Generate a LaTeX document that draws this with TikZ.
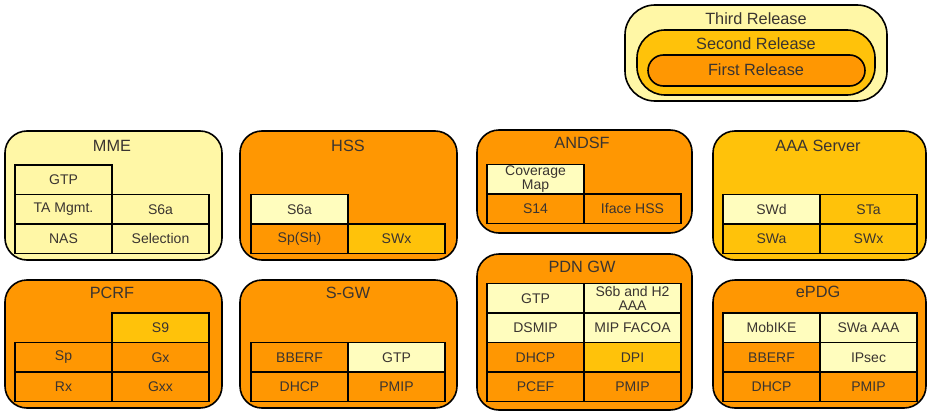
\documentclass[tikz,border=0pt]{standalone}
\usepackage{fontspec}
\setmainfont{Liberation Sans}
\definecolor{lightY}{HTML}{FFF7A6}
\definecolor{paleY}{HTML}{FFFDBE}
\definecolor{gold}{HTML}{FFC20A}
\definecolor{orng}{HTML}{FF9702}
\definecolor{txt}{HTML}{3A3430}
\newcommand\mkcell[5]{\node[cell,fill=#4] (#1) at (#2,#3) {#5};}
\begin{document}
\begin{tikzpicture}[x=1pt,y=-1pt,
  box/.style={draw=black, line width=1.6pt, rounded corners=22pt, inner sep=0pt, outer sep=0pt, anchor=north west},
  cell/.style={draw=black, line width=1.4pt, inner sep=0pt, outer sep=0pt, anchor=north west, minimum width=97pt, minimum height=29.5pt, font=\fontsize{14}{14}\selectfont, text=txt, align=center},
  ttl/.style={font=\fontsize{16.3}{16}\selectfont, text=txt, inner sep=0pt},
  rel/.style={draw=black, line width=1.6pt, inner sep=0pt, outer sep=0pt, anchor=north west},
]
\useasboundingbox (0,0) rectangle (928,412);

% Legend
\node[rel, fill=lightY, rounded corners=30pt, minimum width=262pt, minimum height=96pt] (rel3) at (625,5) {};
\node[rel, fill=gold, rounded corners=28pt, minimum width=238pt, minimum height=65pt] (rel2) at (637,30) {};
\node[rel, fill=orng, rounded corners=15.5pt, minimum width=217pt, minimum height=31pt] (rel1) at (648,55) {};
\node[ttl] (rel3t) at (756,19) {Third Release};
\node[ttl] (rel2t) at (756,44) {Second Release};
\node[ttl] (rel1t) at (756,70) {First Release};

% MME
\node[box, fill=lightY, minimum width=217pt, minimum height=129pt] (mme) at (5,131) {};
\node[ttl] (mmet) at (112,146) {MME};
\mkcell{mgtp}{15}{165}{lightY}{GTP}
\mkcell{mta}{15}{194.5}{lightY}{TA Mgmt.}
\mkcell{ms6a}{112}{194.5}{lightY}{S6a}
\mkcell{mnas}{15}{224}{lightY}{NAS}
\mkcell{msel}{112}{224}{lightY}{Selection}

% HSS
\node[box, fill=orng, minimum width=217pt, minimum height=129pt] (hss) at (240,131) {};
\node[ttl] (hsst) at (348,146) {HSS};
\mkcell{hs6a}{251}{194.5}{paleY}{S6a}
\mkcell{hsp}{251}{224}{orng}{Sp(Sh)}
\mkcell{hswx}{348}{224}{gold}{SWx}

% ANDSF
\node[box, fill=orng, minimum width=215pt, minimum height=103pt] (andsf) at (477,130) {};
\node[ttl] (andsft) at (582,143) {ANDSF};
\mkcell{acov}{487}{164.5}{paleY}{Coverage\\Map}
\mkcell{as14}{487}{194}{orng}{S14}
\mkcell{aif}{584}{194}{orng}{Iface HSS}

% AAA Server
\node[box, fill=gold, minimum width=213pt, minimum height=129pt] (aaa) at (713,131) {};
\node[ttl] (aaat) at (818,146) {AAA Server};
\mkcell{swd}{723}{194.5}{paleY}{SWd}
\mkcell{sta}{820}{194.5}{gold}{STa}
\mkcell{swa}{723}{224}{gold}{SWa}
\mkcell{swx}{820}{224}{gold}{SWx}

% PCRF
\node[box, fill=orng, minimum width=217pt, minimum height=128pt] (pcrf) at (5,280) {};
\node[ttl] (pcrft) at (112,293) {PCRF};
\mkcell{ps9}{112}{313}{gold}{S9}
\mkcell{psp}{15}{342.5}{orng}{Sp}
\mkcell{pgx}{112}{342.5}{orng}{Gx}
\mkcell{prx}{15}{372}{orng}{Rx}
\mkcell{pgxx}{112}{372}{orng}{Gxx}

% S-GW
\node[box, fill=orng, minimum width=217pt, minimum height=128pt] (sgw) at (240,280) {};
\node[ttl] (sgwt) at (348,293) {S-GW};
\mkcell{sbb}{251}{342.5}{orng}{BBERF}
\mkcell{sgtp}{348}{342.5}{paleY}{GTP}
\mkcell{sdh}{251}{372}{orng}{DHCP}
\mkcell{spm}{348}{372}{orng}{PMIP}

% PDN GW
\node[box, fill=orng, minimum width=215pt, minimum height=156pt] (pgw) at (477,254) {};
\node[ttl] (pgwt) at (582,267) {PDN GW};
\mkcell{ggtp}{487}{283.5}{paleY}{GTP}
\mkcell{gs6b}{584}{283.5}{paleY}{S6b and H2\\AAA}
\mkcell{gds}{487}{313}{paleY}{DSMIP}
\mkcell{gmip}{584}{313}{paleY}{MIP FACOA}
\mkcell{gdh}{487}{342.5}{orng}{DHCP}
\mkcell{gdpi}{584}{342.5}{gold}{DPI}
\mkcell{gpc}{487}{372}{orng}{PCEF}
\mkcell{gpm}{584}{372}{orng}{PMIP}

% ePDG
\node[box, fill=orng, minimum width=213pt, minimum height=128pt] (epdg) at (713,280) {};
\node[ttl] (epdgt) at (818,292) {ePDG};
\mkcell{emob}{723}{313}{paleY}{MobIKE}
\mkcell{eswa}{820}{313}{paleY}{SWa AAA}
\mkcell{ebb}{723}{342.5}{orng}{BBERF}
\mkcell{eip}{820}{342.5}{paleY}{IPsec}
\mkcell{edh}{723}{372}{orng}{DHCP}
\mkcell{epm}{820}{372}{orng}{PMIP}
\end{tikzpicture}
\end{document}
